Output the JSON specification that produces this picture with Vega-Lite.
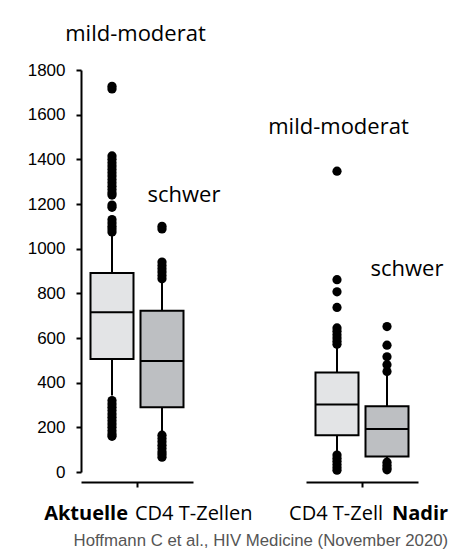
{
  "$schema": "https://vega.github.io/schema/vega-lite/v6.json",
  "padding": {"left": 27, "top": 22, "right": 0, "bottom": 0},
  "spacing": 15,
  "title": {"text": "Hoffmann C et al., HIV Medicine (November 2020)", "orient": "bottom", "anchor": "end", "font": "Liberation Sans", "fontSize": 16.8, "fontWeight": "normal", "color": "#555555", "offset": 9},
  "datasets": {
    "A": [
      {"sub": "mild", "kind": "box", "lo": 342, "q1": 506, "med": 715, "q3": 891, "hi": 1060},
      {"sub": "schwer", "kind": "box", "lo": 180, "q1": 290, "med": 497, "q3": 722, "hi": 850},
      {"sub": "mild", "kind": "out", "v": 1715},
      {"sub": "mild", "kind": "out", "v": 1727},
      {"sub": "mild", "kind": "out", "v": 1415},
      {"sub": "mild", "kind": "out", "v": 1400},
      {"sub": "mild", "kind": "out", "v": 1385},
      {"sub": "mild", "kind": "out", "v": 1370},
      {"sub": "mild", "kind": "out", "v": 1355},
      {"sub": "mild", "kind": "out", "v": 1340},
      {"sub": "mild", "kind": "out", "v": 1325},
      {"sub": "mild", "kind": "out", "v": 1310},
      {"sub": "mild", "kind": "out", "v": 1295},
      {"sub": "mild", "kind": "out", "v": 1280},
      {"sub": "mild", "kind": "out", "v": 1265},
      {"sub": "mild", "kind": "out", "v": 1250},
      {"sub": "mild", "kind": "out", "v": 1240},
      {"sub": "mild", "kind": "out", "v": 1195},
      {"sub": "mild", "kind": "out", "v": 1185},
      {"sub": "mild", "kind": "out", "v": 1130},
      {"sub": "mild", "kind": "out", "v": 1115},
      {"sub": "mild", "kind": "out", "v": 1100},
      {"sub": "mild", "kind": "out", "v": 1088},
      {"sub": "mild", "kind": "out", "v": 1075},
      {"sub": "mild", "kind": "out", "v": 320},
      {"sub": "mild", "kind": "out", "v": 305},
      {"sub": "mild", "kind": "out", "v": 290},
      {"sub": "mild", "kind": "out", "v": 275},
      {"sub": "mild", "kind": "out", "v": 260},
      {"sub": "mild", "kind": "out", "v": 245},
      {"sub": "mild", "kind": "out", "v": 230},
      {"sub": "mild", "kind": "out", "v": 215},
      {"sub": "mild", "kind": "out", "v": 200},
      {"sub": "mild", "kind": "out", "v": 185},
      {"sub": "mild", "kind": "out", "v": 170},
      {"sub": "mild", "kind": "out", "v": 160},
      {"sub": "schwer", "kind": "out", "v": 1100},
      {"sub": "schwer", "kind": "out", "v": 1088},
      {"sub": "schwer", "kind": "out", "v": 940},
      {"sub": "schwer", "kind": "out", "v": 925},
      {"sub": "schwer", "kind": "out", "v": 910},
      {"sub": "schwer", "kind": "out", "v": 895},
      {"sub": "schwer", "kind": "out", "v": 880},
      {"sub": "schwer", "kind": "out", "v": 865},
      {"sub": "schwer", "kind": "out", "v": 165},
      {"sub": "schwer", "kind": "out", "v": 150},
      {"sub": "schwer", "kind": "out", "v": 135},
      {"sub": "schwer", "kind": "out", "v": 120},
      {"sub": "schwer", "kind": "out", "v": 105},
      {"sub": "schwer", "kind": "out", "v": 90},
      {"sub": "schwer", "kind": "out", "v": 78},
      {"sub": "schwer", "kind": "out", "v": 66},
      {"kind": "top", "txt": "mild-moderat", "ly": 1931},
      {"kind": "mid", "txt": "schwer", "ly": 1209},
      {"kind": "bold", "txt": "Aktuelle", "ly": -213},
      {"kind": "norm", "txt": "CD4 T-Zellen", "ly": -213}
    ],
    "N": [
      {"sub": "mild", "kind": "box", "lo": 90, "q1": 165, "med": 302, "q3": 445, "hi": 566},
      {"sub": "schwer", "kind": "box", "lo": 55, "q1": 69, "med": 193, "q3": 294, "hi": 435},
      {"sub": "mild", "kind": "out", "v": 1347},
      {"sub": "mild", "kind": "out", "v": 861},
      {"sub": "mild", "kind": "out", "v": 807},
      {"sub": "mild", "kind": "out", "v": 737},
      {"sub": "mild", "kind": "out", "v": 645},
      {"sub": "mild", "kind": "out", "v": 630},
      {"sub": "mild", "kind": "out", "v": 615},
      {"sub": "mild", "kind": "out", "v": 600},
      {"sub": "mild", "kind": "out", "v": 585},
      {"sub": "mild", "kind": "out", "v": 572},
      {"sub": "mild", "kind": "out", "v": 76},
      {"sub": "mild", "kind": "out", "v": 62},
      {"sub": "mild", "kind": "out", "v": 48},
      {"sub": "mild", "kind": "out", "v": 34},
      {"sub": "mild", "kind": "out", "v": 20},
      {"sub": "mild", "kind": "out", "v": 8},
      {"sub": "schwer", "kind": "out", "v": 651},
      {"sub": "schwer", "kind": "out", "v": 568},
      {"sub": "schwer", "kind": "out", "v": 516},
      {"sub": "schwer", "kind": "out", "v": 480},
      {"sub": "schwer", "kind": "out", "v": 450},
      {"sub": "schwer", "kind": "out", "v": 44},
      {"sub": "schwer", "kind": "out", "v": 30},
      {"sub": "schwer", "kind": "out", "v": 18},
      {"sub": "schwer", "kind": "out", "v": 10},
      {"kind": "top", "txt": "mild-moderat", "ly": 1513},
      {"kind": "mid", "txt": "schwer", "ly": 876},
      {"kind": "norm", "txt": "CD4 T-Zell", "ly": -213},
      {"kind": "bold", "txt": "Nadir", "ly": -213}
    ]
  },
  "hconcat": [
    {
      "data": {"name": "A"},
      "width": 112,
      "height": 402,
      "view": {"stroke": null},
      "encoding": {
        "x": {
          "field": "sub", "type": "nominal",
          "scale": {"domain": ["mild", "schwer"], "paddingInner": 0, "paddingOuter": 0.12},
          "axis": {"values": ["schwer"], "bandPosition": 0, "labels": false, "title": null, "offset": 10, "zindex": 1, "domain": true, "ticks": true, "tickSize": 5, "tickWidth": 2, "domainWidth": 2, "domainColor": "black", "tickColor": "black"}
        }
      },
      "layer": [
        {
          "transform": [{"filter": "datum.kind === 'box'"}],
          "mark": {"type": "rule", "color": "black", "strokeWidth": 2},
          "encoding": {
            "y": {"field": "lo", "type": "quantitative", "scale": {"domain": [0, 1800], "nice": false, "zero": false},
              "axis": {"orient": "left", "values": [0,100,200,300,400,500,600,700,800,900,1000,1100,1200,1300,1400,1500,1600,1700,1800],
                "labelExpr": "datum.value % 200 === 0 ? datum.label : ''", "format": "d", "grid": false, "title": null,
                "zindex": 1, "domain": true, "ticks": true,
                "domainColor": "black", "domainWidth": 2, "tickColor": "black", "tickWidth": 2, "tickSize": 5,
                "labelPadding": 11, "labelFont": "Liberation Sans", "labelFontSize": 17, "labelColor": "black"}},
            "y2": {"field": "hi"}
          }
        },
        {
          "transform": [{"filter": "datum.kind === 'box'"}],
          "mark": {"type": "bar", "size": 43, "stroke": "black", "strokeWidth": 2},
          "encoding": {
            "y": {"field": "q1", "type": "quantitative"},
            "y2": {"field": "q3"},
            "fill": {"field": "sub", "type": "nominal", "scale": {"domain": ["mild", "schwer"], "range": ["#e3e4e6", "#bdbfc2"]}, "legend": null}
          }
        },
        {
          "transform": [{"filter": "datum.kind === 'box'"}],
          "mark": {"type": "tick", "size": 43, "thickness": 2, "color": "black", "opacity": 1},
          "encoding": {"y": {"field": "med", "type": "quantitative"}}
        },
        {
          "transform": [{"filter": "datum.kind === 'out'"}],
          "mark": {"type": "circle", "size": 85, "color": "black", "opacity": 1},
          "encoding": {"y": {"field": "v", "type": "quantitative"}}
        },
        {
          "transform": [{"filter": "datum.kind === 'top'"}],
          "mark": {"type": "text", "font": "Open Sans", "fontSize": 22, "baseline": "alphabetic", "align": "center", "dx": -1.5, "color": "black"},
          "encoding": {"x": null, "y": {"field": "ly", "type": "quantitative"}, "text": {"field": "txt"}}
        },
        {
          "transform": [{"filter": "datum.kind === 'mid'"}],
          "mark": {"type": "text", "font": "Open Sans", "fontSize": 22, "baseline": "alphabetic", "align": "center", "dx": 47, "color": "black"},
          "encoding": {"x": null, "y": {"field": "ly", "type": "quantitative"}, "text": {"field": "txt"}}
        },
        {
          "transform": [{"filter": "datum.kind === 'bold'"}],
          "mark": {"type": "text", "font": "Open Sans", "fontSize": 20, "fontWeight": "bold", "baseline": "alphabetic", "align": "right", "dx": -9, "color": "black"},
          "encoding": {"x": null, "y": {"field": "ly", "type": "quantitative"}, "text": {"field": "txt"}}
        },
        {
          "transform": [{"filter": "datum.kind === 'norm'"}],
          "mark": {"type": "text", "font": "Open Sans", "fontSize": 20, "baseline": "alphabetic", "align": "left", "dx": -2, "color": "black"},
          "encoding": {"x": null, "y": {"field": "ly", "type": "quantitative"}, "text": {"field": "txt"}}
        }
      ]
    },
    {
      "data": {"name": "N"},
      "width": 112,
      "height": 402,
      "view": {"stroke": null},
      "encoding": {
        "x": {
          "field": "sub", "type": "nominal",
          "scale": {"domain": ["mild", "schwer"], "paddingInner": 0, "paddingOuter": 0.12},
          "axis": {"values": ["schwer"], "bandPosition": 0, "labels": false, "title": null, "offset": 10, "zindex": 1, "domain": true, "ticks": true, "tickSize": 5, "tickWidth": 2, "domainWidth": 2, "domainColor": "black", "tickColor": "black"}
        }
      },
      "layer": [
        {
          "transform": [{"filter": "datum.kind === 'box'"}],
          "mark": {"type": "rule", "color": "black", "strokeWidth": 2},
          "encoding": {
            "y": {"field": "lo", "type": "quantitative", "scale": {"domain": [0, 1800], "nice": false, "zero": false}, "axis": null},
            "y2": {"field": "hi"}
          }
        },
        {
          "transform": [{"filter": "datum.kind === 'box'"}],
          "mark": {"type": "bar", "size": 43, "stroke": "black", "strokeWidth": 2},
          "encoding": {
            "y": {"field": "q1", "type": "quantitative"},
            "y2": {"field": "q3"},
            "fill": {"field": "sub", "type": "nominal", "scale": {"domain": ["mild", "schwer"], "range": ["#e3e4e6", "#bdbfc2"]}, "legend": null}
          }
        },
        {
          "transform": [{"filter": "datum.kind === 'box'"}],
          "mark": {"type": "tick", "size": 43, "thickness": 2, "color": "black", "opacity": 1},
          "encoding": {"y": {"field": "med", "type": "quantitative"}}
        },
        {
          "transform": [{"filter": "datum.kind === 'out'"}],
          "mark": {"type": "circle", "size": 85, "color": "black", "opacity": 1},
          "encoding": {"y": {"field": "v", "type": "quantitative"}}
        },
        {
          "transform": [{"filter": "datum.kind === 'top'"}],
          "mark": {"type": "text", "font": "Open Sans", "fontSize": 22, "baseline": "alphabetic", "align": "center", "dx": -23.5, "color": "black"},
          "encoding": {"x": null, "y": {"field": "ly", "type": "quantitative"}, "text": {"field": "txt"}}
        },
        {
          "transform": [{"filter": "datum.kind === 'mid'"}],
          "mark": {"type": "text", "font": "Open Sans", "fontSize": 22, "baseline": "alphabetic", "align": "center", "dx": 45, "color": "black"},
          "encoding": {"x": null, "y": {"field": "ly", "type": "quantitative"}, "text": {"field": "txt"}}
        },
        {
          "transform": [{"filter": "datum.kind === 'norm'"}],
          "mark": {"type": "text", "font": "Open Sans", "fontSize": 20, "baseline": "alphabetic", "align": "right", "dx": 21, "color": "black"},
          "encoding": {"x": null, "y": {"field": "ly", "type": "quantitative"}, "text": {"field": "txt"}}
        },
        {
          "transform": [{"filter": "datum.kind === 'bold'"}],
          "mark": {"type": "text", "font": "Open Sans", "fontSize": 20, "fontWeight": "bold", "baseline": "alphabetic", "align": "left", "dx": 30, "color": "black"},
          "encoding": {"x": null, "y": {"field": "ly", "type": "quantitative"}, "text": {"field": "txt"}}
        }
      ]
    }
  ]
}
